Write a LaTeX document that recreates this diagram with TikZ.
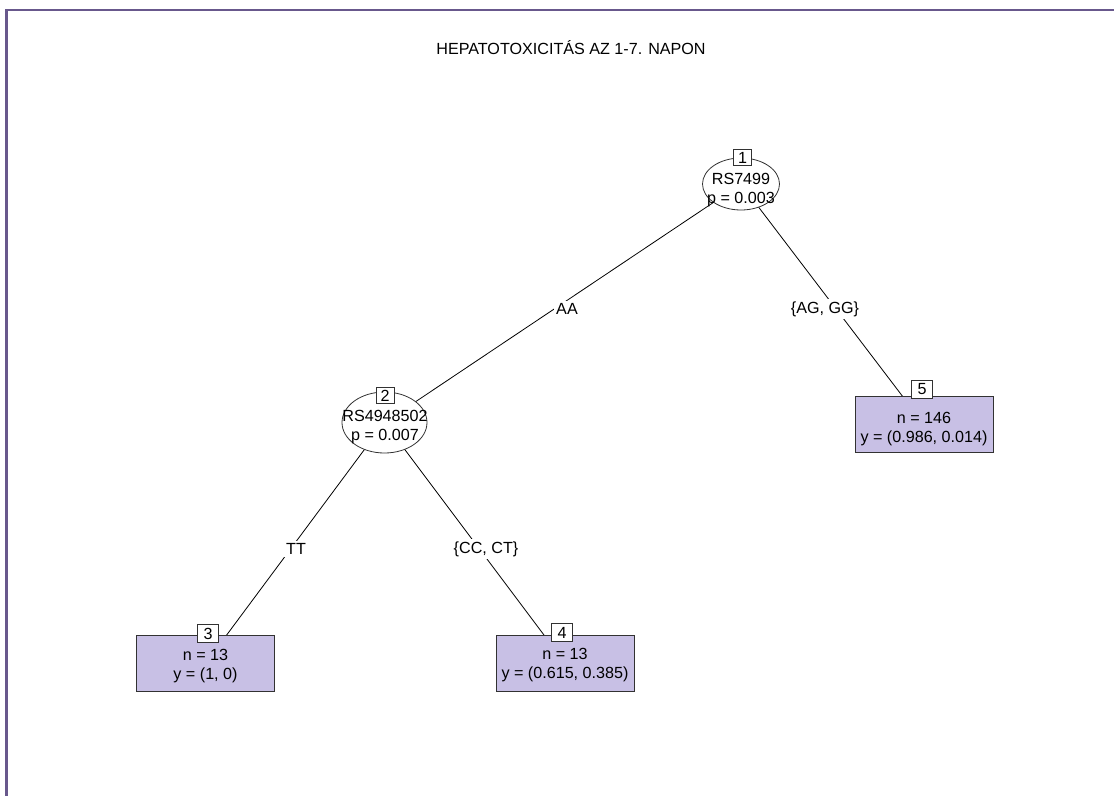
\documentclass[tikz,border=0pt]{standalone}
\usepackage{fontspec}
\setmainfont{Liberation Sans}
\usetikzlibrary{shapes.geometric}
\definecolor{framepurple}{RGB}{104,88,140}
\definecolor{leaffill}{RGB}{200,192,229}
\definecolor{boxline}{RGB}{50,50,50}
\begin{document}
\begin{tikzpicture}[x=0.75pt,y=-0.75pt,
  every node/.style={font=\fontsize{12.1pt}{14.3pt}\selectfont},
  frameline/.style={draw=framepurple,line width=1.9pt},
  edge/.style={draw=black,line width=0.6pt},
  splitnode/.style={ellipse,draw=boxline,fill=white,line width=0.6pt,inner sep=0pt},
  nodetext/.style={align=center,inner sep=0pt},
  leafbox/.style={rectangle,draw=boxline,fill=leaffill,line width=0.6pt,
    minimum width=103.5pt,minimum height=42pt,inner sep=0pt},
  idbox/.style={rectangle,draw=boxline,fill=white,line width=0.6pt,
    minimum width=13.5pt,minimum height=12pt,inner sep=0pt},
  leafid/.style={idbox,minimum width=15.75pt,minimum height=13.5pt},
  edgelabel/.style={fill=white,inner sep=1.5pt}]
\useasboundingbox (0,0) rectangle (1114,796);
% outer frame (top and left sides)
\draw[frameline] (6.5,797) -- (6.5,10) -- (1115,10);
% title
\node (title) at (571,48) {HEPATOTOXICITÁS AZ 1-7. NAPON};
% node centres
\coordinate (c1) at (741,184);
\coordinate (c2) at (384.5,422.5);
\coordinate (c3) at (205.5,663.5);
\coordinate (c4) at (565,663);
\coordinate (c5) at (924,424.5);
% edges, drawn beneath the nodes
\draw[edge] (c1) -- (c2);
\draw[edge] (c1) -- (c5);
\draw[edge] (c2) -- (c3);
\draw[edge] (c2) -- (c4);
% edge labels
\node[edgelabel] (lAA) at (567,309) {AA};
\node[edgelabel] (lAGGG) at (825,309) {\{AG, GG\}};
\node[edgelabel] (lTT) at (296,549) {TT};
\node[edgelabel] (lCCCT) at (486,549) {\{CC, CT\}};
% inner (split) nodes
\node[splitnode,minimum width=57.75pt,minimum height=39pt] (e1) at (c1) {};
\node[nodetext] (t1) at (741,190) {RS7499\\p = 0.003};
\node[idbox] (id1) at (742.5,157.5) {1};
\node[splitnode,minimum width=63.75pt,minimum height=45.75pt] (e2) at (c2) {};
\node[nodetext] (t2) at (385,427.5) {RS4948502\\p = 0.007};
\node[idbox] (id2) at (385,395.5) {2};
% terminal nodes
\node[leafbox] (b3) at (c3) {};
\node[nodetext] (t3) at (205.5,666.5) {n = 13\\y = (1, 0)};
\node[leafid] (id3) at (208,633.5) {3};
\node[leafbox] (b4) at (c4) {};
\node[nodetext] (t4) at (565,665.5) {n = 13\\y = (0.615, 0.385)};
\node[leafid] (id4) at (562,632.5) {4};
\node[leafbox] (b5) at (c5) {};
\node[nodetext] (t5) at (924,429.5) {n = 146\\y = (0.986, 0.014)};
\node[leafid] (id5) at (922,389) {5};
\end{tikzpicture}
\end{document}
